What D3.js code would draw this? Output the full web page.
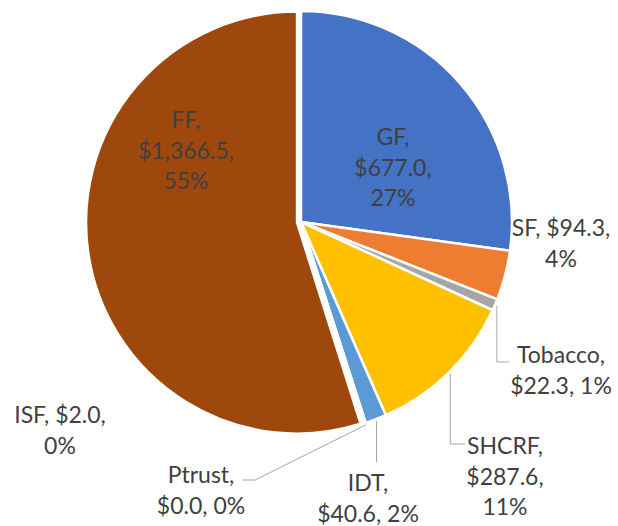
<!DOCTYPE html>
<html>
<head>
<meta charset="utf-8">
<script src="https://cdn.jsdelivr.net/npm/d3@7"></script>
<style>
  html, body { margin: 0; padding: 0; background: #ffffff; }
  svg { display: block; }
  text { font-family: Lato, "Open Sans", sans-serif; fill: #404040; }
</style>
</head>
<body>
<svg id="chart" width="618" height="526"></svg>
<script>
// ---- data ----
const categories = ["GF", "SF", "Tobacco", "SHCRF", "IDT", "Ptrust", "ISF", "FF"];
const values = [677.0, 94.3, 22.3, 287.6, 40.6, 0.0, 2.0, 1366.5];
const percentLabels = ["27%", "4%", "1%", "11%", "2%", "0%", "0%", "55%"];
const colors = ["#4472C4", "#ED7D31", "#A5A5A5", "#FFC000", "#5B9BD5", "#70AD47", "#264478", "#9E480E"];

// ---- layout (label placement, as in the reference) ----
const cx = 301, cy = 222, radius = 211;
const explode = { "FF": 4 };
// wrap: how many label parts per line; pos: center x and first line center y
const labelLayout = {
  "GF":      { wrap: [1, 1, 1], x: 393, y: 137 },
  "SF":      { wrap: [2, 1],    x: 561, y: 228 },
  "Tobacco": { wrap: [1, 2],    x: 561, y: 355, leader: [[null, 362], [509, 362]] },
  "SHCRF":   { wrap: [1, 1, 1], x: 505, y: 446, leader: [[null, 444], [465, 444]] },
  "IDT":     { wrap: [1, 2],    x: 368, y: 483, leader: [[null, 462]] },
  "Ptrust":  { wrap: [1, 2],    x: 201, y: 475, leader: [[255, 480], [243, 480]] },
  "ISF":     { wrap: [2, 1],    x: 60,  y: 415 },
  "FF":      { wrap: [1, 1, 1], x: 186, y: 120 }
};
const lineHeight = 30.5;

const fmt = d3.format(",.1f");
const data = categories.map((c, i) => ({ name: c, value: values[i], pct: percentLabels[i], color: colors[i] }));

const svg = d3.select("#chart");
const g = svg.append("g").attr("transform", `translate(${cx},${cy})`);

const pie = d3.pie().sort(null).value(d => d.value).startAngle(0).endAngle(2 * Math.PI);
const arcs = pie(data);
const arc = d3.arc().innerRadius(0).outerRadius(radius);

g.selectAll("path.slice")
  .data(arcs)
  .enter().append("path")
  .attr("class", "slice")
  .attr("d", arc)
  .attr("fill", d => d.data.color)
  .attr("stroke", "#ffffff")
  .attr("stroke-width", 2.5)
  .attr("stroke-linejoin", "round")
  .attr("transform", d => {
    const e = explode[d.data.name] || 0;
    const a = (d.startAngle + d.endAngle) / 2;
    return `translate(${e * Math.sin(a)},${-e * Math.cos(a)})`;
  });

// leader lines
const line = d3.line();
arcs.forEach(d => {
  const L = labelLayout[d.data.name];
  if (!L.leader) return;
  const a = (d.startAngle + d.endAngle) / 2;
  const sx = cx + (radius + 2) * Math.sin(a);
  const sy = cy - (radius + 2) * Math.cos(a);
  const pts = [[sx, sy]].concat(L.leader.map(p => [p[0] === null ? sx : p[0], p[1]]));
  svg.append("path")
    .attr("d", line(pts))
    .attr("fill", "none")
    .attr("stroke", "#A6A6A6")
    .attr("stroke-width", 1);
});

// labels
arcs.forEach(d => {
  const L = labelLayout[d.data.name];
  const parts = [d.data.name + ",", "$" + fmt(d.data.value) + ",", d.data.pct];
  const lines = [];
  let k = 0;
  L.wrap.forEach(n => { lines.push(parts.slice(k, k + n).join(" ")); k += n; });
  const t = svg.append("text")
    .attr("text-anchor", "middle")
    .attr("font-size", 23);
  lines.forEach((s, i) => {
    t.append("tspan")
      .attr("x", L.x)
      .attr("y", L.y + i * lineHeight)
      .attr("dy", "0.36em")
      .text(s);
  });
});
</script>
</body>
</html>
